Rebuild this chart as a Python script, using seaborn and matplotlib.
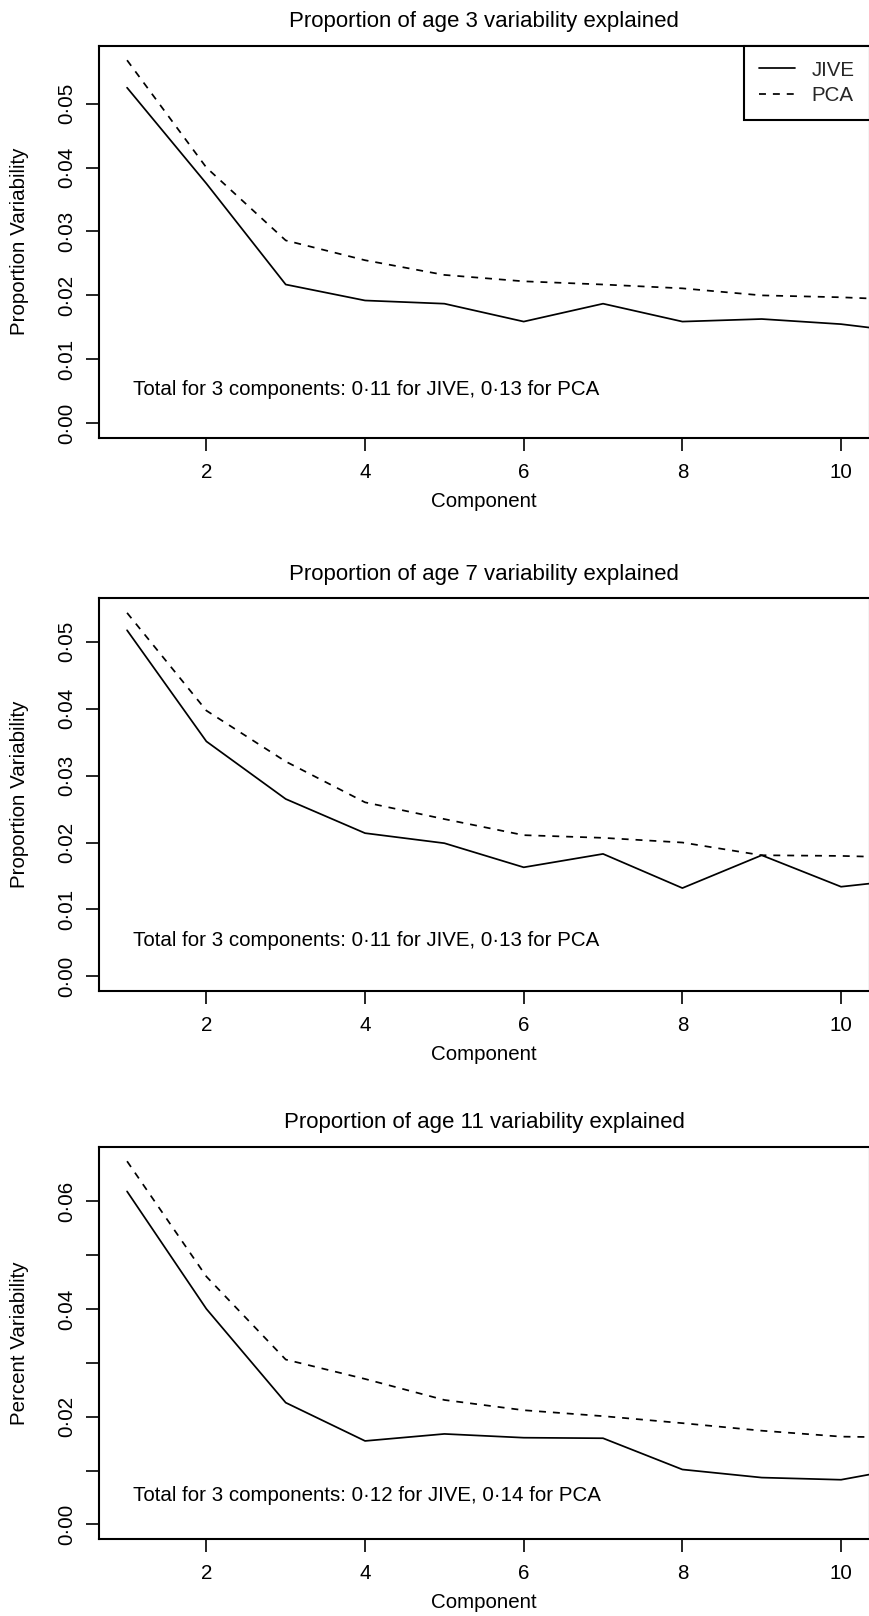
import numpy as np
import pandas as pd
import seaborn as sns
import matplotlib
matplotlib.use("Agg")
import matplotlib.pyplot as plt

# ---------------- data ----------------
components = [1, 2, 3, 4, 5, 6, 7, 8, 9, 10, 11]

jive_age3 = [0.0525, 0.0375, 0.0217, 0.0192, 0.0187, 0.0159, 0.0187, 0.0159, 0.0163, 0.0155, 0.0140]
pca_age3 = [0.0568, 0.0400, 0.0286, 0.0255, 0.0232, 0.0222, 0.0217, 0.0211, 0.0200, 0.0197, 0.0192]

jive_age7 = [0.0517, 0.0351, 0.0265, 0.0214, 0.0199, 0.0163, 0.0183, 0.0132, 0.0181, 0.0134, 0.0147]
pca_age7 = [0.0543, 0.0397, 0.0321, 0.0260, 0.0235, 0.0211, 0.0207, 0.0200, 0.0181, 0.0180, 0.0177]

jive_age11 = [0.0618, 0.0400, 0.0226, 0.0155, 0.0168, 0.0161, 0.0160, 0.0102, 0.0087, 0.0083, 0.0110]
pca_age11 = [0.0674, 0.0460, 0.0306, 0.0270, 0.0231, 0.0212, 0.0201, 0.0188, 0.0174, 0.0163, 0.0161]

titles = ["Proportion of age 3 variability explained",
          "Proportion of age 7 variability explained",
          "Proportion of age 11 variability explained"]
ylabels = ["Proportion Variability", "Proportion Variability", "Percent Variability"]
notes = ["Total for 3 components: 0\u00b711 for JIVE, 0\u00b713 for PCA",
         "Total for 3 components: 0\u00b711 for JIVE, 0\u00b713 for PCA",
         "Total for 3 components: 0\u00b712 for JIVE, 0\u00b714 for PCA"]
series_names = ["JIVE", "PCA"]

xticks = [2, 4, 6, 8, 10]
xticklabels = ["2", "4", "6", "8", "10"]
yticks_small = [0.00, 0.01, 0.02, 0.03, 0.04, 0.05]
yticklabels_small = ["0\u00b700", "0\u00b701", "0\u00b702", "0\u00b703", "0\u00b704", "0\u00b705"]
yticks_big = [0.00, 0.01, 0.02, 0.03, 0.04, 0.05, 0.06]
yticklabels_big = ["0\u00b700", "", "0\u00b702", "", "0\u00b704", "", "0\u00b706"]
xlabel = "Component"

# ---------------- style ----------------
sns.set_theme(style="white")
plt.rcParams["font.family"] = ["Liberation Sans", "DejaVu Sans"]
FS = 14.75

W, H = 869, 1616
fig = plt.figure(figsize=(W / 100, H / 100), dpi=100)

left_px, right_px = 98.5, 869.6
panel_px = [(45.7, 437.7), (598.3, 991.0), (1146.7, 1539.0)]

jives = [jive_age3, jive_age7, jive_age11]
pcas = [pca_age3, pca_age7, pca_age11]
ytick_sets = [(yticks_small, yticklabels_small), (yticks_small, yticklabels_small),
              (yticks_big, yticklabels_big)]

for i in range(3):
    top, bot = panel_px[i]
    ax = fig.add_axes([left_px / W, 1 - bot / H, (right_px - left_px) / W, (bot - top) / H])
    df = pd.DataFrame({"Component": components, "JIVE": jives[i], "PCA": pcas[i]})
    sns.lineplot(data=df, x="Component", y="JIVE", ax=ax, color="black", lw=1.25,
                 label=series_names[0], sort=False, estimator=None, legend=(i == 0))
    sns.lineplot(data=df, x="Component", y="PCA", ax=ax, color="black", lw=1.25,
                 linestyle=(0, (4, 4)), label=series_names[1], sort=False,
                 estimator=None, legend=(i == 0))

    ax.set_xlim(0.64, 10.36)
    M = max(pcas[i])
    ax.set_ylim(-0.04 * M, 1.04 * M)

    ax.set_xticks(xticks)
    ax.set_xticklabels(xticklabels, fontsize=FS)
    yt, ytl = ytick_sets[i]
    ax.set_yticks(yt)
    ax.set_yticklabels(ytl, fontsize=FS, rotation=90, va="center")
    ax.tick_params(axis="both", direction="out", length=9.2, width=1.2, color="black",
                   labelcolor="black", bottom=True, left=True)
    ax.tick_params(axis="x", pad=9)
    ax.tick_params(axis="y", pad=7)

    for s in ax.spines.values():
        s.set_visible(True)
        s.set_color("black")
        s.set_linewidth(1.5)

    ax.set_xlabel(xlabel, fontsize=FS, color="black")
    ax.xaxis.set_label_coords(0.5, -64 / (bot - top))
    ax.xaxis.label.set_va("center")
    ax.set_ylabel(ylabels[i], fontsize=FS, color="black")
    ax.yaxis.set_label_coords((19.4 - left_px) / (right_px - left_px), 0.5)
    ax.yaxis.label.set_va("center")
    ax.yaxis.label.set_ha("center")

    ax.text(0.5, 1 + 24 / (bot - top), titles[i], transform=ax.transAxes,
            ha="center", va="center", fontsize=16, color="black")
    ax.text(1.074, 0.0053, notes[i], ha="left", va="center", fontsize=FS, color="black")

    if i == 0:
        leg = ax.legend(loc="upper right", bbox_to_anchor=(1, 1), borderaxespad=0,
                        frameon=True, fancybox=False, edgecolor="black", framealpha=1,
                        fontsize=FS, handlelength=1.75, handletextpad=0.8,
                        borderpad=0.73, labelspacing=0.31)
        leg.get_frame().set_linewidth(1.5)

fig.savefig("out.png", dpi=100, facecolor="white")
